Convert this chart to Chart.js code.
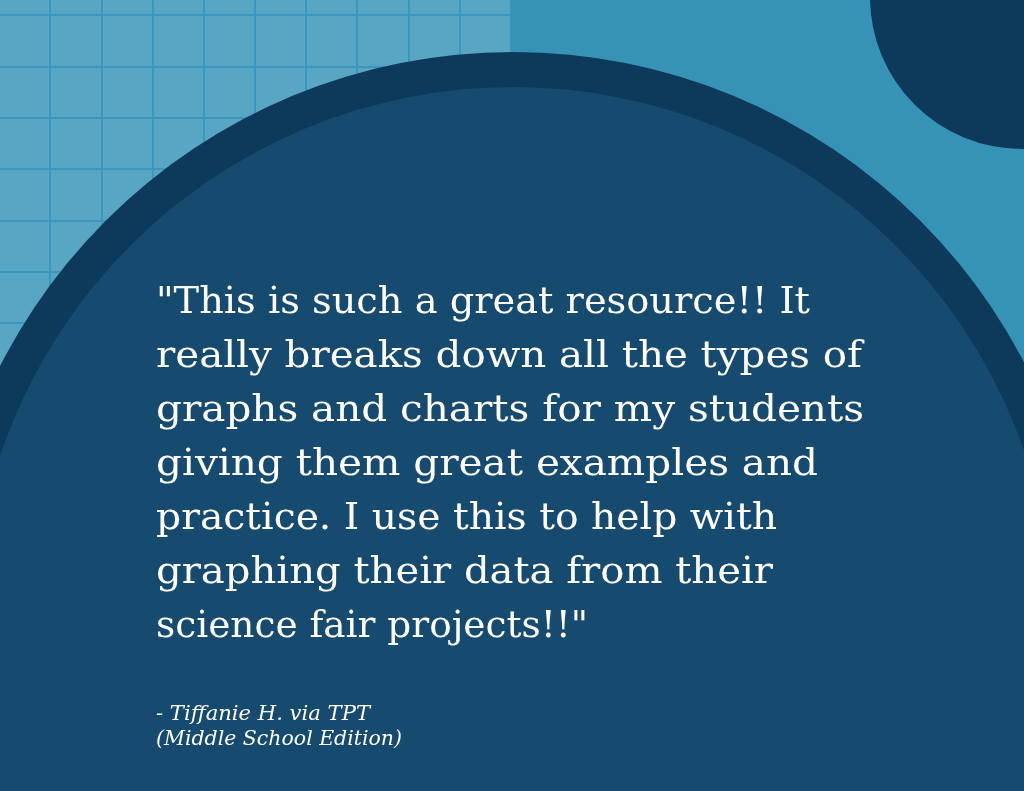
<!DOCTYPE html>
<html>
<head>
<meta charset="utf-8">
<script src="https://cdn.jsdelivr.net/npm/chart.js@4.4.1/dist/chart.umd.min.js"></script>
<style>
  html, body { margin: 0; padding: 0; }
  body { width: 1024px; height: 791px; overflow: hidden; background: #3793b6; position: relative; }
  #panel { position: absolute; left: 0; top: 0; background: #58a5c4; }
  #shapes { position: absolute; left: 0; top: 0; }
  .quote { position: absolute; left: 156px; top: 273px; color: #fff;
           font-family: "DejaVu Serif Condensed", "DejaVu Serif", serif; font-size: 38px; line-height: 54px; white-space: nowrap; }
  .credit { position: absolute; left: 156px; top: 701px; color: #fff;
            font-family: "DejaVu Serif Condensed", "DejaVu Serif", serif; font-style: italic; font-size: 21px; line-height: 25px; white-space: nowrap; }
  .quote div, .credit div { transform-origin: 0 0; width: max-content; }
</style>
</head>
<body>
<canvas id="panel" width="511" height="420"></canvas>
<canvas id="shapes" width="1024" height="791"></canvas>
<div class="quote" id="quote"></div>
<div class="credit" id="credit"></div>
<script>
// --- Datos ---
const gridX = [50, 102, 153, 204, 255, 306, 357, 409, 460, 511];
const gridY = [15, 67, 118, 169, 221, 272, 323, 374];

// círculos: esquina, anillo exterior, disco interior
const circleX = [1022, 513, 513];
const circleY = [-3, 628, 628];
const circleR = [152, 576, 541];
const circleColors = ['#0d3a5a', '#0d3a5a', '#164a6f'];

const quoteLines = [
    '"This is such a great resource!! It',
    'really breaks down all the types of',
    'graphs and charts for my students',
    'giving them great examples and',
    'practice. I use this to help with',
    'graphing their data from their',
    'science fair projects!!"'
];
const quoteWidths = [654, 706, 708, 662, 621, 617, 432];
const creditLines = ['- Tiffanie H. via TPT', '(Middle School Edition)'];
const creditWidths = [214, 246];

// --- Cuadrícula ---
new Chart(document.getElementById('panel'), {
    type: 'scatter',
    data: { datasets: [{ data: [] }] },
    options: {
        responsive: false,
        animation: false,
        events: [],
        layout: { padding: 0, autoPadding: false },
        plugins: { legend: { display: false }, tooltip: { enabled: false } },
        scales: {
            x: {
                min: 0, max: 511,
                afterBuildTicks: s => { s.ticks = gridX.map(v => ({ value: v })); },
                afterFit: s => { s.height = 0; },
                ticks: { display: false },
                border: { display: false },
                grid: { color: '#3d96bd', lineWidth: 2, drawTicks: false }
            },
            y: {
                min: 0, max: 420, reverse: true,
                afterBuildTicks: s => { s.ticks = gridY.map(v => ({ value: v })); },
                afterFit: s => { s.width = 0; },
                ticks: { display: false },
                border: { display: false },
                grid: { color: '#3d96bd', lineWidth: 2, drawTicks: false }
            }
        }
    }
});

// --- Círculos ---
new Chart(document.getElementById('shapes'), {
    type: 'bubble',
    data: {
        datasets: [{
            data: circleX.map((x, i) => ({ x: x, y: circleY[i], r: circleR[i] })),
            backgroundColor: circleColors,
            borderWidth: 0,
            hoverRadius: 0,
            clip: false
        }]
    },
    options: {
        responsive: false,
        animation: false,
        events: [],
        layout: { padding: 0, autoPadding: false },
        plugins: { legend: { display: false }, tooltip: { enabled: false } },
        scales: {
            x: { display: false, min: 0, max: 1024 },
            y: { display: false, min: 0, max: 791, reverse: true }
        }
    }
});

// --- Texto ---
function fillLines(el, lines, widths) {
    lines.forEach((t, i) => {
        const d = document.createElement('div');
        d.textContent = t;
        el.appendChild(d);
        const w = d.getBoundingClientRect().width;
        if (w > 0) d.style.transform = 'scaleX(' + (widths[i] / w) + ')';
    });
}
fillLines(document.getElementById('quote'), quoteLines, quoteWidths);
fillLines(document.getElementById('credit'), creditLines, creditWidths);
</script>
</body>
</html>
